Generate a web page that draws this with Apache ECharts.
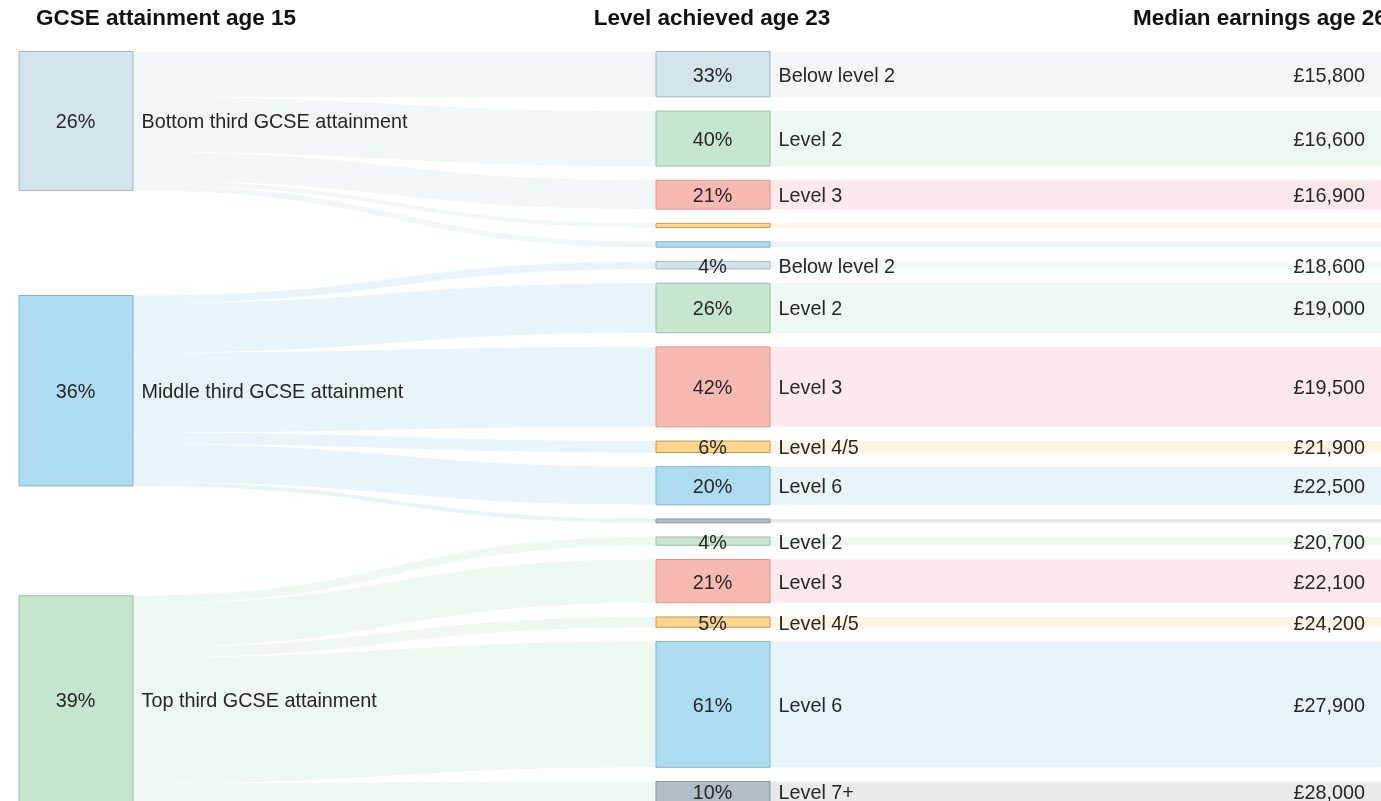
<!DOCTYPE html>
<html><head><meta charset="utf-8">
<script src="https://cdn.jsdelivr.net/npm/echarts@6/dist/echarts.min.js"></script>
<style>html,body{margin:0;padding:0;background:#fff;overflow:hidden}#c{width:1381px;height:801px}</style>
</head><body><div id="c"></div>
<script>
// ---- data ----
const columnTitles = ['GCSE attainment age 15', 'Level achieved age 23', 'Median earnings age 26'];
const groups = ['Bottom third GCSE attainment', 'Middle third GCSE attainment', 'Top third GCSE attainment'];
const groupShares = [26, 36, 39];

const bottomLevels = ['Below level 2', 'Level 2', 'Level 3', 'Level 4/5', 'Level 6'];
const bottomPcts = [33, 40, 21, 3, 4];
const bottomEarnings = ['£15,800', '£16,600', '£16,900', null, null];

const middleLevels = ['Below level 2', 'Level 2', 'Level 3', 'Level 4/5', 'Level 6', 'Level 7+'];
const middlePcts = [4, 26, 42, 6, 20, 2];
const middleEarnings = ['£18,600', '£19,000', '£19,500', '£21,900', '£22,500', null];

const topLevels = ['Level 2', 'Level 3', 'Level 4/5', 'Level 6', 'Level 7+'];
const topPcts = [4, 21, 5, 61, 10];
const topEarnings = ['£20,700', '£22,100', '£24,200', '£27,900', '£28,000'];

// ---- styling ----
const levelStyle = {
  'Below level 2': { fill: '#d3e4ed', border: '#a3b6c2', band: '#f1f6f9' },
  'Level 2':       { fill: '#c7e6cf', border: '#98c2a3', band: '#eef7f1' },
  'Level 3':       { fill: '#f9b9b3', border: '#d49893', band: '#fde9e9' },
  'Level 4/5':     { fill: '#fdd68e', border: '#c49a58', band: '#fff4e2' },
  'Level 6':       { fill: '#addcf0', border: '#86b5c9', band: '#e7f4fa' },
  'Level 7+':      { fill: '#b1bec8', border: '#87939d', band: '#e8ebee' }
};
const groupStyle = [levelStyle['Below level 2'], levelStyle['Level 6'], levelStyle['Level 2']];
const FONT = '"Liberation Sans", Arial, sans-serif';
const TXT = '#262626';
const FS = 19.8;
const LEFT = 19, TOP = 51.5, W = 1362, H = 750.6;
const midX = (656 - LEFT) / W, rightX = (1395 - LEFT) / W;
const groupY = [0, 244 / H, 544.2 / H];

const groupData = [
  [bottomLevels, bottomPcts, bottomEarnings],
  [middleLevels, middlePcts, middleEarnings],
  [topLevels, topPcts, topEarnings]
];

const nodes = [], links = [];
groups.forEach((g, gi) => {
  nodes.push({
    name: 'G' + gi, localX: 0, localY: groupY[gi],
    itemStyle: { color: groupStyle[gi].fill, borderColor: groupStyle[gi].border },
    label: { formatter: '{p|' + groupShares[gi] + '%}{t|' + g + '}' }
  });
});
groupData.forEach(([lvls, pcts, earns], gi) => {
  lvls.forEach((lvl, li) => {
    const id = 'M' + gi + '_' + li, rid = 'R' + gi + '_' + li;
    const value = groupShares[gi] * pcts[li] / 100;
    const st = levelStyle[lvl];
    const shown = earns[li] != null;
    nodes.push({
      name: id, localX: midX,
      itemStyle: { color: st.fill, borderColor: st.border },
      label: { show: shown, formatter: '{p|' + pcts[li] + '%}{t|' + lvl + '}' }
    });
    nodes.push({
      name: rid, localX: rightX,
      itemStyle: { color: 'rgba(0,0,0,0)', borderWidth: 0 },
      label: { show: shown, position: 'left', distance: 30, formatter: earns[li] || '' }
    });
    links.push({ source: 'G' + gi, target: id, value: value, lineStyle: { color: groupStyle[gi].band } });
    links.push({ source: id, target: rid, value: value, lineStyle: { color: st.band } });
  });
});

const chart = echarts.init(document.getElementById('c'), null, { renderer: 'canvas' });
chart.setOption({
  animation: false,
  backgroundColor: '#fff',
  graphic: [
    { type: 'text', x: 36, y: 19, style: { text: columnTitles[0], font: 'bold 22.5px ' + FONT, fill: '#111', textAlign: 'left', textVerticalAlign: 'middle' } },
    { type: 'text', x: 712, y: 19, style: { text: columnTitles[1], font: 'bold 22.5px ' + FONT, fill: '#111', textAlign: 'center', textVerticalAlign: 'middle' } },
    { type: 'text', x: 1133, y: 19, style: { text: columnTitles[2], font: 'bold 22.5px ' + FONT, fill: '#111', textAlign: 'left', textVerticalAlign: 'middle' } }
  ],
  series: [{
    type: 'sankey',
    left: LEFT, top: TOP, width: W, height: H,
    nodeWidth: 114, nodeGap: 14.2, layoutIterations: 0,
    draggable: false,
    emphasis: { disabled: true },
    itemStyle: { borderWidth: 1 },
    lineStyle: { opacity: 1, curveness: 0.5 },
    label: {
      show: true, position: 'insideLeft', distance: 0, offset: [0, 2],
      color: TXT, fontSize: FS, fontFamily: FONT,
      rich: {
        p: { width: 114, align: 'center', fontSize: FS, fontFamily: FONT, color: TXT },
        t: { padding: [0, 0, 0, 9], fontSize: FS, fontFamily: FONT, color: TXT }
      }
    },
    data: nodes,
    links: links
  }]
});
</script></body></html>
